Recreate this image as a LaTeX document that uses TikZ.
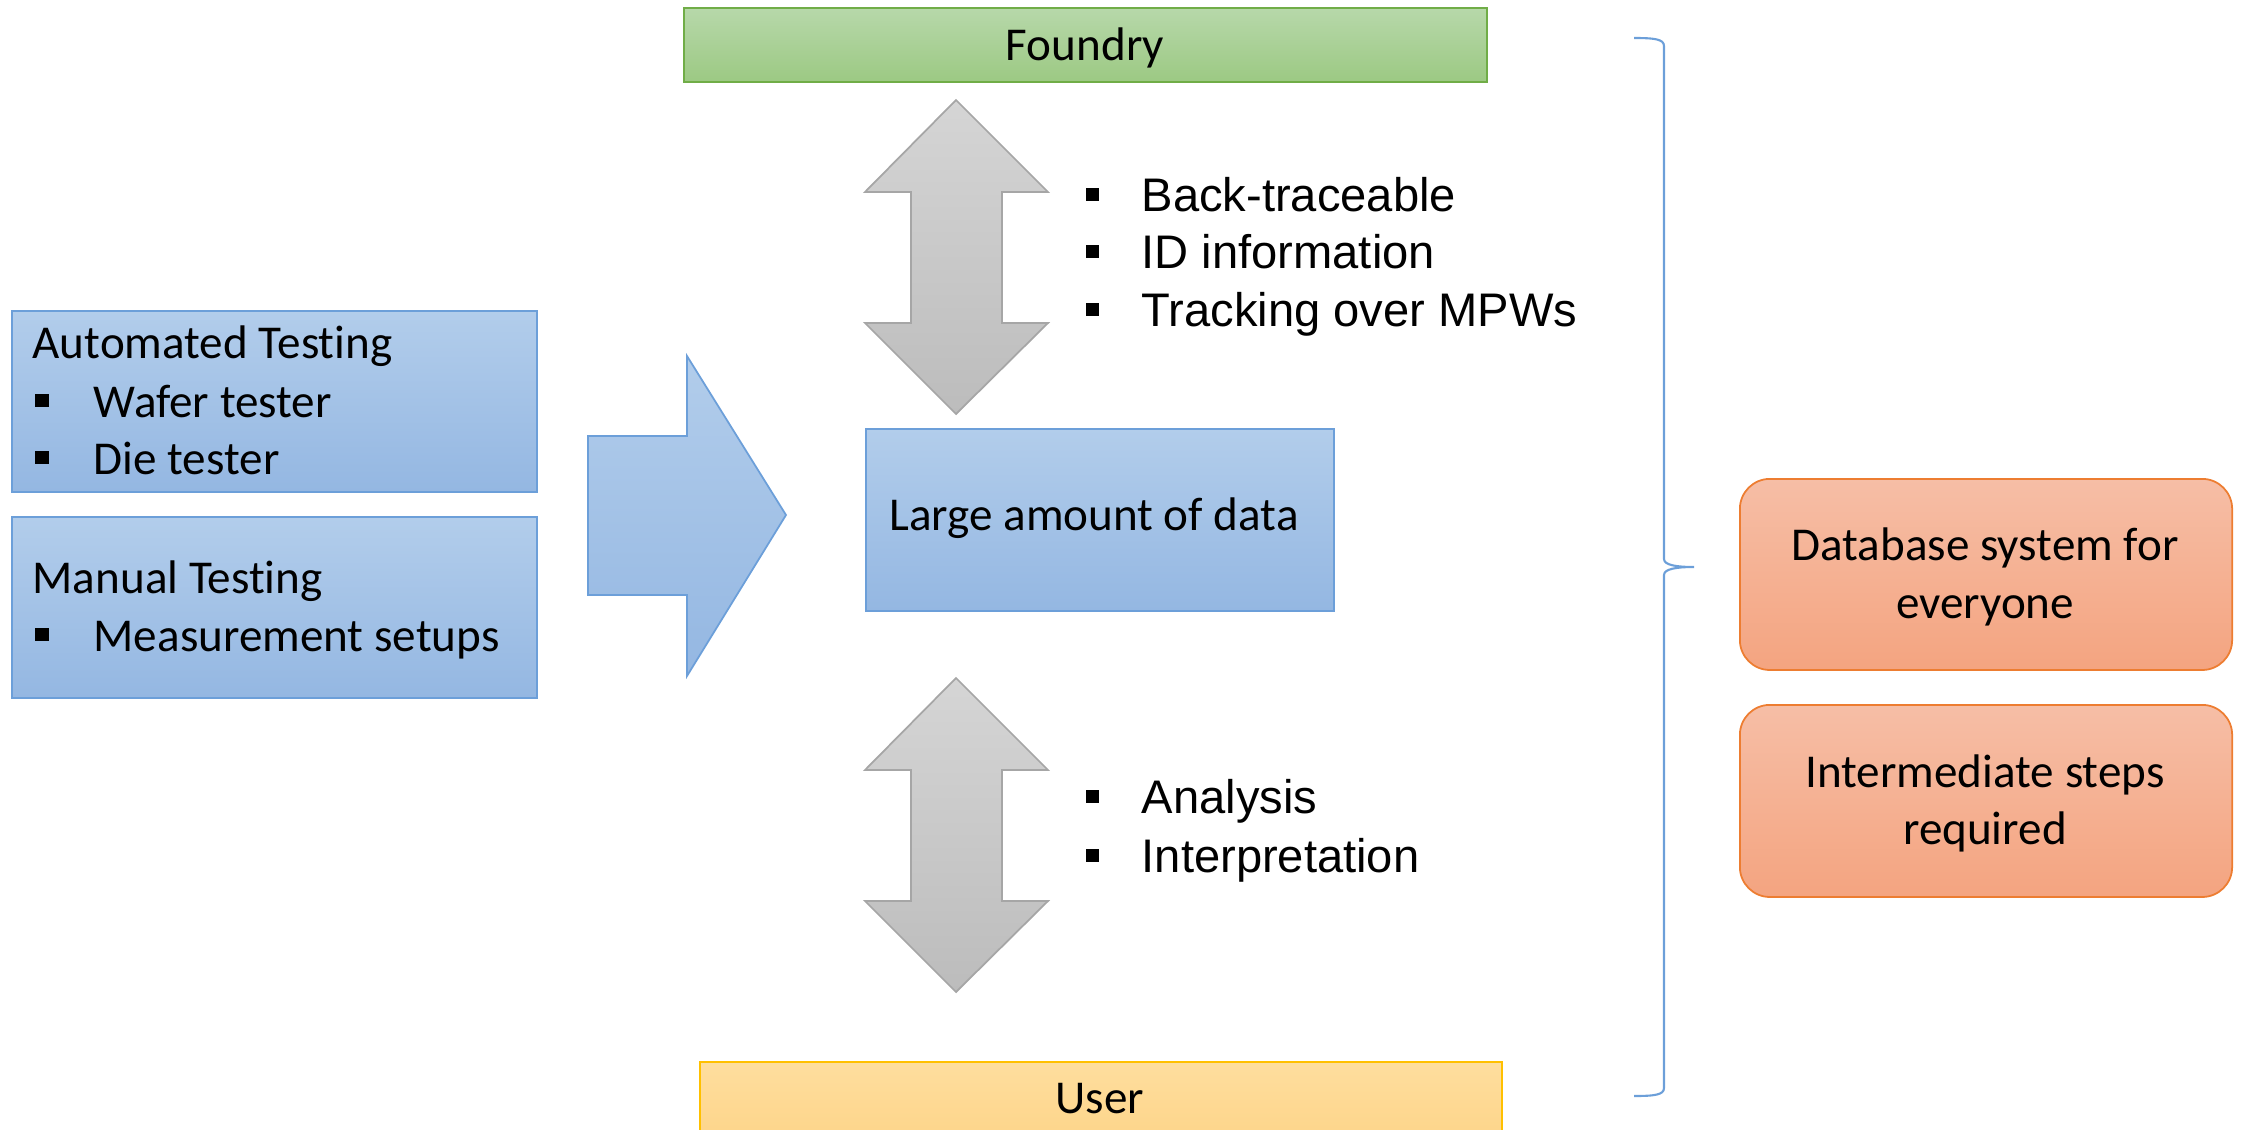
\documentclass[tikz,border=0pt]{standalone}
\usepackage{fontspec}
\setmainfont{Carlito}[RawFeature=-liga]
\newfontfamily\arialfont{Liberation Sans}

\definecolor{BlueTop}{HTML}{B2CDEB}
\definecolor{BlueBot}{HTML}{94B7E2}
\definecolor{BlueLine}{HTML}{6C9FD9}
\definecolor{GreenTop}{HTML}{B7D8AA}
\definecolor{GreenBot}{HTML}{9CC983}
\definecolor{GreenLine}{HTML}{70AD47}
\definecolor{YellowTop}{HTML}{FEDE9E}
\definecolor{YellowBot}{HTML}{FDD284}
\definecolor{YellowLine}{HTML}{FFC000}
\definecolor{OrangeTop}{HTML}{F6BEA6}
\definecolor{OrangeBot}{HTML}{F4A480}
\definecolor{OrangeLine}{HTML}{ED7D31}
\definecolor{GrayTop}{HTML}{D5D5D5}
\definecolor{GrayBot}{HTML}{BCBCBC}
\definecolor{GrayLine}{HTML}{A6A6A6}

\tikzset{
  box/.style={line width=0.5pt, inner sep=0pt, anchor=north west},
  bluebox/.style={box, draw=BlueLine, top color=BlueTop, bottom color=BlueBot},
  txt/.style={inner sep=0pt, font=\fontsize{13.4}{16}\selectfont},
  atxt/.style={inner sep=0pt, font=\arialfont\fontsize{13.4}{16}\selectfont},
  bul/.style={fill=black, inner sep=0pt, minimum size=0.13cm},
  grayarrow/.style={draw=GrayLine, line width=0.5pt, top color=GrayTop, bottom color=GrayBot},
}

% double headed gray arrow, #1 = top tip
\newcommand{\dblarrow}[1]{%
  \path[grayarrow] (956,#1) -- (1048,{#1+92}) -- (1002,{#1+92}) -- (1002,{#1+223})
    -- (1048,{#1+223}) -- (956,{#1+314}) -- (865,{#1+223}) -- (911,{#1+223})
    -- (911,{#1+92}) -- (865,{#1+92}) -- cycle;}

\begin{document}
\begin{tikzpicture}[x=0.01cm, y=-0.01cm]

 \useasboundingbox (0,0) rectangle (2241,1130);

 %%%%%%%%%% Testing boxes %%%%%%%%%%
 \node[bluebox, minimum width=5.25cm, minimum height=1.81cm] (auto) at (11,310) {};
 \node[bluebox, minimum width=5.25cm, minimum height=1.81cm] (manual) at (11,516) {};

 \node[txt, anchor=base west] (autoT) at (32,358) {Automated Testing};
 \node[txt, anchor=base west] (manualT) at (32,593) {Manual Testing};
 \foreach \n/\y/\t in {wafer/417/Wafer tester, die/474/Die tester, meas/651/Measurement setups}
 {
   \node[bul] (\n b) at (42,\y-17) {};
   \node[txt, anchor=base west] (\n) at (93,\y) {\t};
 }

 %%%%%%%%%% Input arrow %%%%%%%%%%
 \path[draw=BlueLine, line width=0.5pt, top color=BlueTop, bottom color=BlueBot]
   (588,436) -- (687,436) -- (687,356) -- (786,515) -- (687,676) -- (687,595) -- (588,595) -- cycle;

 %%%%%%%%%% Foundry / data / user %%%%%%%%%%
 \node[box, draw=GreenLine, top color=GreenTop, bottom color=GreenBot,
       minimum width=8.03cm, minimum height=0.74cm] (foundry) at (683,7) {};
 \node[txt, anchor=base] (foundryT) at (1085,60) {Foundry};

 \node[bluebox, minimum width=4.68cm, minimum height=1.82cm] (data) at (865,428) {};
 \node[txt, anchor=base] (dataT) at (1094,530) {Large amount of data};

 \node[box, draw=YellowLine, top color=YellowTop, bottom color=YellowBot,
       minimum width=8.02cm, minimum height=1.0cm] (user) at (699,1061) {};
 \node[txt, anchor=base] (userT) at (1100,1113) {User};

 %%%%%%%%%% Gray arrows %%%%%%%%%%
 \dblarrow{100}
 \dblarrow{678}

 \foreach \n/\y/\t in {back/211/Back-traceable, id/268/ID information, track/326/Tracking over MPWs,
                       ana/813/Analysis, inter/872/Interpretation}
 {
   \node[bul] (\n b) at (1092,\y-17) {};
   \node[atxt, anchor=base west] (\n) at (1141,\y) {\t};
 }

 %%%%%%%%%% Brace %%%%%%%%%%
 \draw[BlueLine, line width=0.6pt] (1634,38) .. controls (1654,38) and (1664,39) .. (1664,46)
   -- (1664,559) .. controls (1664,565) and (1676,567) .. (1694,567)
   .. controls (1676,567) and (1664,569) .. (1664,575)
   -- (1664,1088) .. controls (1664,1095) and (1654,1096) .. (1634,1096);

 %%%%%%%%%% Conclusions %%%%%%%%%%
 \node[box, draw=OrangeLine, top color=OrangeTop, bottom color=OrangeBot, rounded corners=0.3cm,
       minimum width=4.92cm, minimum height=1.91cm] (db) at (1739,478) {};
 \node[box, draw=OrangeLine, top color=OrangeTop, bottom color=OrangeBot, rounded corners=0.3cm,
       minimum width=4.92cm, minimum height=1.92cm] (steps) at (1739,704) {};
 \node[txt, anchor=base] (db1) at (1985,560) {Database system for};
 \node[txt, anchor=base] (db2) at (1985,618) {everyone};
 \node[txt, anchor=base] (steps1) at (1985,787) {Intermediate steps};
 \node[txt, anchor=base] (steps2) at (1985,844) {required};

\end{tikzpicture}
\end{document}
